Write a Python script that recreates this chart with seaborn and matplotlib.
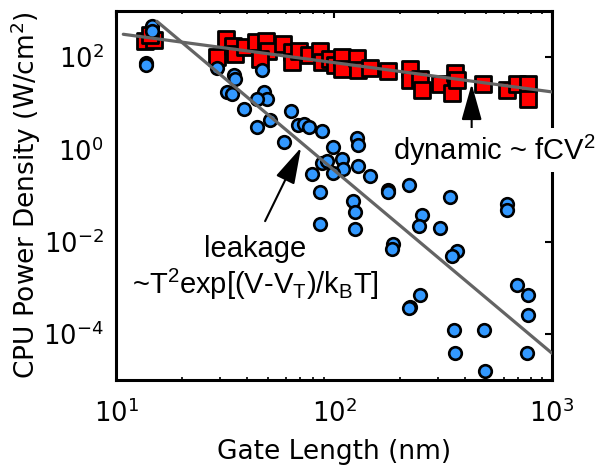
import matplotlib
matplotlib.use("Agg")
import matplotlib.pyplot as plt
import seaborn as sns
import pandas as pd
from matplotlib.ticker import FixedLocator, NullLocator, NullFormatter

# Dynamic power density (red squares): gate length (nm) vs W/cm^2
dyn_x = [13.6, 14.9, 14.3, 29.0, 32.1, 34.5, 35.1, 39.1, 43.9, 48.8,
         49.8, 45.8, 58.5, 64.0, 64.0, 69.1, 76.8, 86.2, 87.8, 95.9,
         101.1, 108.5, 108.5, 127.1, 129.3, 146.3, 176.9, 223.2, 223.2, 248.0,
         252.5, 306.3, 346.7, 358.9, 365.4, 484.1, 619.7, 691.0, 778.6, 778.6]
dyn_y = [221, 232, 298, 100, 244, 173, 118, 164, 211, 229,
         135, 91.9, 193, 128, 78.0, 135, 109, 135, 78.0, 90.5,
         66.2, 100, 56.0, 97.6, 53.8, 59.4, 49.9, 55.1, 31.9, 34.1,
         19.5, 26.6, 16.3, 46.3, 31.5, 26.6, 19.2, 26.2, 26.6, 12.6]

# Leakage power density (blue circles)
leak_x = [14.7, 14.6, 13.8, 13.8, 29.1, 34.8, 35.1, 46.7, 32.2, 34.0,
          47.7, 49.1, 44.2, 38.7, 63.5, 50.9, 44.2, 68.4, 72.8, 76.8,
          87.8, 59.0, 99.3, 127.5, 129.5, 87.8, 92.9, 108.5, 110.3, 99.3,
          129.3, 79.0, 146.3, 176.9, 177.2, 220.8, 86.7, 122.6, 124.9, 86.7,
          124.9, 342.2, 252.5, 245.4, 306.3, 619.7, 619.7, 186.5, 183.9, 365.4,
          346.7, 691.0, 778.6, 772.0, 248.0, 223.2, 220.8, 353.4, 486.1, 358.9,
          765.5, 492.8]
leak_y = [482, 373, 74.3, 66.2, 59.4, 42.0, 34.1, 51.7, 17.6, 15.9,
          17.2, 12.4, 12.4, 7.57, 6.68, 4.32, 3.10, 3.42, 3.47, 3.10,
          2.54, 1.44, 1.15, 1.73, 1.27, 0.507, 0.546, 0.618, 0.367, 0.305,
          0.426, 0.290, 0.268, 0.134, 0.120, 0.172, 0.117, 0.0776, 0.0435, 0.0236,
          0.0184, 0.0914, 0.0374, 0.0217, 0.0200, 0.0646, 0.0480, 0.00875, 0.00693, 0.00637,
          0.00478, 0.00116, 0.000689, 0.000259, 0.000689, 0.00039, 0.000361, 0.000124, 0.000124, 3.78e-5,
          3.8e-5, 1.55e-5]

# Power-law trend lines
dyn_fit_x = [10.8, 1000]
dyn_fit_y = [313, 17.6]
leak_fit_x = [15.4, 1000]
leak_fit_y = [598, 3.8e-5]

y_ticks = [1e-4, 1e-2, 1e0, 1e2]
y_tick_labels = [r"$10^{-4}$", r"$10^{-2}$", r"$10^{0}$", r"$10^{2}$"]
x_ticks = [10, 100, 1000]
x_tick_labels = [r"$10^{1}$", r"$10^{2}$", r"$10^{3}$"]

sns.set_theme(style="white")
plt.rcParams["font.family"] = ["DejaVu Sans"]
plt.rcParams["mathtext.fontset"] = "dejavusans"

fig = plt.figure(figsize=(6.06, 4.67), dpi=100)
ax = fig.add_axes([116 / 606, 1 - 380 / 467, 436 / 606, 369 / 467])
ax.set_xscale("log")
ax.set_yscale("log")

dyn_df = pd.DataFrame({"L": dyn_x, "P": dyn_y})
leak_df = pd.DataFrame({"L": leak_x, "P": leak_y})

sns.scatterplot(data=dyn_df, x="L", y="P", marker="s", s=135, color="#ff0000",
                edgecolor="black", linewidth=2.0, ax=ax, zorder=2, legend=False)
sns.scatterplot(data=leak_df, x="L", y="P", marker="o", s=82, color="#3399ff",
                edgecolor="black", linewidth=1.9, ax=ax, zorder=2, legend=False)

line_color = "#646464"
sns.lineplot(x=dyn_fit_x, y=dyn_fit_y, color=line_color, lw=2.3, ax=ax, zorder=3)
sns.lineplot(x=leak_fit_x, y=leak_fit_y, color=line_color, lw=2.3, ax=ax, zorder=3)

ax.set_xlim(10, 1000)
ax.set_ylim(1e-5, 1e3)

# Axis frame and ticks
for sp in ax.spines.values():
    sp.set_linewidth(2.2)
    sp.set_color("black")

ax.xaxis.set_major_locator(FixedLocator(x_ticks))
ax.set_xticklabels(x_tick_labels)
ax.yaxis.set_major_locator(FixedLocator(y_ticks))
ax.set_yticklabels(y_tick_labels)
ax.yaxis.set_minor_locator(NullLocator())
ax.xaxis.set_minor_formatter(NullFormatter())

ax.tick_params(axis="both", which="major", direction="in", top=True, right=True,
               length=5, width=1.5, color="black", labelsize=18.5,
               labelcolor="black")
ax.tick_params(axis="x", which="major", pad=14)
ax.tick_params(axis="y", which="major", pad=9)
ax.tick_params(axis="x", which="minor", direction="in", top=True, bottom=True,
               length=2.5, width=1.2, color="black")

ax.set_xlabel("Gate Length (nm)", fontsize=19, color="black", labelpad=8)
ax.set_ylabel(r"CPU Power Density (W/cm$^2$)", fontsize=19, color="black", labelpad=0)

# Annotations
ann_font = "Liberation Sans"
plt.rcParams["mathtext.fontset"] = "custom"
plt.rcParams["mathtext.rm"] = ann_font
plt.rcParams["mathtext.it"] = ann_font
plt.rcParams["mathtext.default"] = "rm"

arrow_style = "-|>,head_length=1.5,head_width=0.42"
ax.annotate("", xy=(428, 26.2), xytext=(428, 2.67),
            arrowprops=dict(arrowstyle=arrow_style, mutation_scale=15,
                            color="black", lw=1.5, shrinkA=0, shrinkB=0), zorder=4)
ax.annotate("", xy=(70.6, 1.09), xytext=(48.3, 0.0278),
            arrowprops=dict(arrowstyle=arrow_style, mutation_scale=15,
                            color="black", lw=1.5, shrinkA=0, shrinkB=0), zorder=4)

ax.text(186.5, 0.602, r"dynamic ~ fCV$^2$", family=ann_font, fontsize=21,
        ha="left", va="baseline", color="black", zorder=6, clip_on=False,
        bbox=dict(boxstyle="square,pad=0.15", fc="white", ec="none"))
ax.text(43.4, 0.0046, "leakage", family=ann_font, fontsize=21,
        ha="center", va="baseline", color="black", zorder=6)
ax.text(43.4, 0.00074, r"~T$^2$exp[(V-V$_T$)/k$_B$T]", family=ann_font, fontsize=21,
        ha="center", va="baseline", color="black", zorder=6)

fig.savefig("out.png", dpi=100, facecolor="white")
